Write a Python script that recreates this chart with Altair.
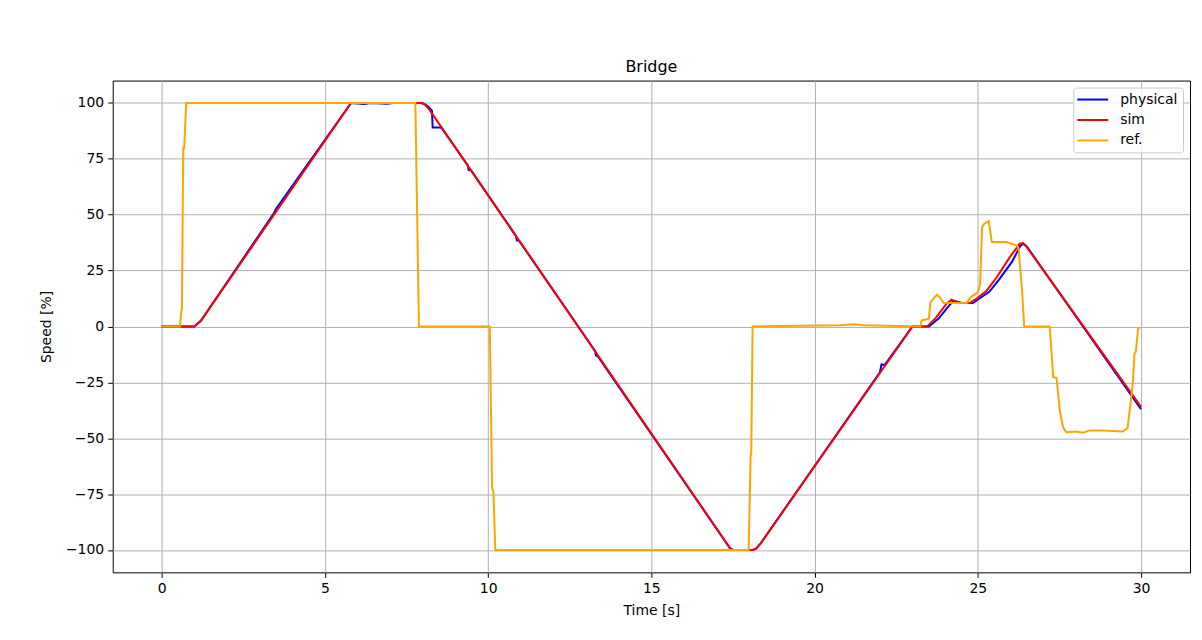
import altair as alt
import pandas as pd

# ---- data ----
sim_t = [0, 1.0, 1.2, 5.8, 7.95, 8.05, 8.2, 17.4, 17.5, 18.1, 18.2, 18.35, 22.95, 23.0,
         23.45, 23.7, 24.05, 24.2, 24.35, 24.5, 24.75, 24.97, 25.27, 25.58, 25.98, 26.28,
         26.38, 26.5, 30.0]
sim_v = [0, 0, 2.5, 100, 100, 99.5, 97, -99, -100, -100, -99.5, -97, -1, 0,
         0, 3.6, 10.3, 12, 11, 10.5, 10.5, 12.5, 16, 22, 31, 37,
         37.3, 35.5, -36]

phys_t = [0, 1.0, 1.2, 3.45, 3.5, 5.8, 6.2, 6.4, 6.9, 7.1, 7.95, 8.05, 8.15, 8.28, 8.3,
          8.55, 8.6, 9.38, 9.4, 9.48, 10.85, 10.88, 10.95, 13.28, 13.3, 13.35, 17.4, 17.5,
          18.1, 18.2, 18.35, 22.0, 22.05, 22.15, 22.95, 23.0, 23.5, 23.8, 24.1, 24.25,
          24.4, 24.5, 24.85, 25.05, 25.35, 25.65, 26.05, 26.3, 26.4, 26.5, 30.0]
phys_v = [0, 0, 2.5, 51, 52.5, 100, 99.5, 100, 99.6, 100, 100, 99.5, 98.5, 96.5, 89,
          89, 88.3, 72, 70, 69.8, 40.5, 38.5, 38.3, -11, -13, -13.2, -99, -100,
          -100, -99.5, -97, -20.5, -17, -17.2, -1, 0, 0, 3.5, 9, 11.5,
          11, 10.5, 10.5, 12.5, 15.5, 21, 29, 36, 37, 35.8, -37]

ref_t = [0, 0.56, 0.6, 0.62, 0.66, 0.69, 0.75, 7.77, 7.88, 10.05, 10.12, 10.16, 10.22,
         17.98, 18.04, 18.06, 18.1, 20.8, 21.2, 21.5, 23.24, 23.28, 23.5, 23.55, 23.75,
         23.85, 23.95, 24.66, 24.77, 24.97, 25.02, 25.07, 25.13, 25.2, 25.33, 25.43, 25.88,
         26.19, 26.25, 26.36, 26.42, 27.2, 27.26, 27.31, 27.41, 27.45, 27.51, 27.61, 27.71,
         28.02, 28.22, 28.42, 28.83, 29.44, 29.59, 29.64, 29.7, 29.75, 29.8, 29.84, 29.91,
         29.96]
ref_v = [0, 0, 7, 8, 80, 80, 100, 100, 0, 0, -72, -74, -100,
         -100, -58, -57, 0, 0.5, 1, 0.5, 0, 2.7, 3.5, 10.9, 14.2,
         12.8, 10.6, 10.5, 13, 14.9, 16, 19, 44.4, 46, 47.1, 37.8, 37.8,
         36.2, 35, 15, 0, 0, -12, -22.7, -23, -28.6, -37.6, -45, -47.3,
         -47, -47.5, -46.5, -46.5, -47, -45.4, -39, -31.7, -25, -12, -11.3, -1,
         -0.5]

series = ["physical", "sim", "ref."]
colors = ["#0000ff", "#ff0000", "#ffa500"]

frames = []
for name, ts, vs in [("physical", phys_t, phys_v), ("sim", sim_t, sim_v), ("ref.", ref_t, ref_v)]:
    frames.append(pd.DataFrame({"t": ts, "v": vs, "series": name}))
df = pd.concat(frames, ignore_index=True)

FONT = "DejaVu Sans"

x_enc = alt.X("t:Q", scale=alt.Scale(domain=[-1.5, 31.5], nice=False, zero=False),
              axis=alt.Axis(values=[0, 5, 10, 15, 20, 25, 30], title="Time [s]",
                            titlePadding=8))
y_enc = alt.Y("v:Q", scale=alt.Scale(domain=[-110, 110], nice=False, zero=False),
              axis=alt.Axis(values=[-100, -75, -50, -25, 0, 25, 50, 75, 100],
                            title="Speed [%]", titlePadding=12))
color_enc = alt.Color(
    "series:N",
    scale=alt.Scale(domain=series, range=colors),
    legend=alt.Legend(title=None, orient="none", legendX=963, legendY=7,
                      symbolType="M-1.33,0H3.83", symbolStrokeWidth=2, symbolSize=144,
                      symbolFillColor="transparent",
                      labelFontSize=14, labelFont=FONT, labelColor="black",
                      padding=5, strokeColor="#cccccc",
                      fillColor="rgba(255,255,255,0.8)", cornerRadius=3,
                      labelOffset=28, rowPadding=6.5),
)

layers = []
for name in series:
    layers.append(
        alt.Chart(df)
        .transform_filter(alt.datum.series == name)
        .mark_line(strokeWidth=2)
        .encode(x=x_enc, y=y_enc, color=color_enc, order="t:Q")
    )

chart = (
    alt.layer(*layers)
    .properties(
        width=1080, height=493,
        autosize=alt.AutoSizeParams(type="none"),
        padding={"left": 105, "top": 72, "right": 4, "bottom": 45},
        title=alt.TitleParams("Bridge", fontSize=16, fontWeight="normal", font=FONT,
                              color="black", offset=6),
    )
    .configure_view(stroke="black", strokeWidth=1)
    .configure_axis(gridColor="#b0b0b0", gridWidth=1, tickColor="black", tickSize=5,
                    tickWidth=1, labelFontSize=14, labelFont=FONT, labelColor="black",
                    titleFontSize=14, titleFont=FONT, titleFontWeight="normal",
                    titleColor="black", domain=False, labelPadding=4)
)

chart.save("out.html", embed_options={"renderer": "svg", "actions": False})
